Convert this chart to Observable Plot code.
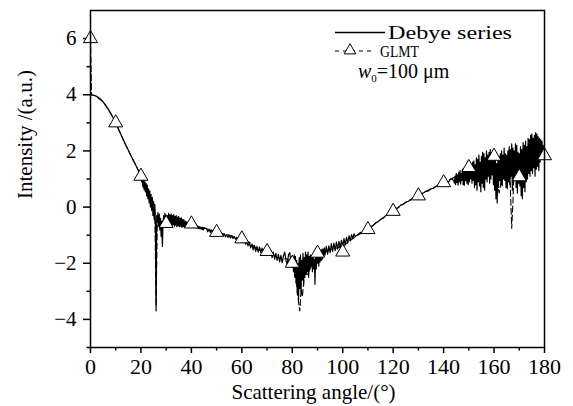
<!DOCTYPE html>
<html><head><meta charset="utf-8">
<script src="https://cdn.jsdelivr.net/npm/d3@7"></script>
<script src="https://cdn.jsdelivr.net/npm/@observablehq/plot@0.6"></script>
<style>
body{margin:0;background:#fff;}
#wrap{position:relative;width:573px;height:406px;background:#fff;}
#wrap svg{position:absolute;left:0;top:0;}
</style></head><body><div id="wrap"></div>
<script>
// ---------- data ----------
const xTicks = [0,20,40,60,80,100,120,140,160,180];
const xMinorTicks = [10,30,50,70,90,110,130,150,170];
const yTicks = [-4,-2,0,2,4,6];
const yMinorTicks = [-5,-3,-1,1,3,5];

// Debye series, sampled in segments (start angle, step, values)
const debyeA = [4.00,3.99,3.96,3.91,3.84,3.75,3.63,3.49,3.34,3.17,2.99,2.80,2.60,2.40,2.20,2.02,1.84,1.66,1.48,1.30,1.12]; // 0..20 step 1
const debyeB = [0.90,1.08,0.72,1.00,0.62,0.92,0.55,0.85,0.40,0.78,0.30,0.65,0.15,0.58,0.00,0.45,-0.12,0.35,-0.30,0.20,-0.45,0.10,-0.60,-3.70,-0.30,-0.55,-0.20,-0.68,-0.25,-0.82,-0.40,-1.05,-0.50,-1.40,-0.62,-0.30,-0.66,-0.22,-0.60,-0.28]; // 20.25..30 step 0.25
const debyeC = [-0.70,-0.30,-0.65,-0.22,-0.68,-0.28,-0.60,-0.25,-0.66,-0.30,-0.62,-0.27,-0.68,-0.33,-0.64,-0.30,-0.70,-0.36,-0.66,-0.34,-0.70,-0.40,-0.68,-0.38,-0.72,-0.44,-0.70,-0.45,-0.72,-0.50,-0.70,-0.52,-0.72,-0.56,-0.70,-0.58,-0.72,-0.60,-0.70,-0.60,-0.70,-0.62,-0.72,-0.64,-0.71,-0.66,-0.74,-0.67,-0.75,-0.68,-0.76,-0.70,-0.77,-0.71,-0.78,-0.73,-0.80,-0.74,-0.81,-0.76]; // 30.25..45 step 0.25
const debyeD = [-0.76,-0.88,-0.78,-0.90,-0.82,-0.92,-0.84,-0.96,-0.86,-0.98,-0.90,-1.00,-0.92,-1.04,-0.95,-1.06,-0.98,-1.08,-1.00,-1.10,-1.02,-1.12,-1.05,-1.15,-1.08,-1.18,-1.10,-1.22,-1.14,-1.26,-1.18,-1.32,-1.22,-1.38,-1.26,-1.45,-1.32,-1.52,-1.36,-1.58,-1.40,-1.60,-1.42,-1.62,-1.46,-1.66,-1.50,-1.68,-1.55]; // 46..70 step 0.5
const debyeE = [-1.50,-1.72,-1.55,-1.80,-1.60,-1.85,-1.65,-1.90,-1.68,-1.95,-1.72,-1.98,-1.75,-1.60,-1.90,-2.05,-1.70,-1.62,-2.00,-2.15]; // 70.5..80 step 0.5
const debyeF = [-1.80,-2.30,-1.70,-2.50,-1.75,-2.70,-1.90,-3.10,-2.00,-3.30,-1.80,-2.90,-1.70,-3.00,-1.90,-2.60,-1.65,-2.80,-1.80,-2.50,-1.60,-2.40,-1.70,-2.30,-1.60,-2.50,-1.75,-2.20,-1.70,-2.10,-1.80,-2.30,-1.75,-2.20,-1.85,-2.75,-1.80,-2.20,-1.70,-2.00,-1.65,-2.10,-1.60,-1.95,-1.55,-1.90,-1.50,-1.85,-1.50,-1.75,-1.45,-1.70]; // 80.25..93 step 0.25
const debyeG = [-1.40,-1.68,-1.38,-1.62,-1.30,-1.58,-1.28,-1.55,-1.25,-1.50,-1.22,-1.45,-1.18,-1.42,-1.12,-1.35,-1.08,-1.28,-1.02,-1.20,-0.98,-1.12,-0.95,-1.05]; // 93.5..105 step 0.5
const debyeH = [-0.98,-0.90,-0.92,-0.82,-0.80,-0.70,-0.66,-0.56,-0.52,-0.44,-0.40,-0.31,-0.27,-0.18,-0.14,-0.06,-0.02,0.07,0.10,0.17,0.21,0.26,0.32,0.36,0.42,0.46,0.50,0.56,0.58,0.65,0.67,0.74,0.76,0.84,0.86,0.93,0.90,1.02,0.95]; // 106..144 step 1
const debyeI = [0.85,1.10,0.80,
  1.20,0.88,1.15,0.78, 1.25,0.90,1.30,0.82, 1.20,0.95,1.35,0.80, 1.28,0.78,1.32,0.95, 1.40,0.85,1.25,0.80,
  1.45,0.90,1.55,1.00, 1.50,0.85,1.60,0.95, 1.65,0.70,1.50,0.80, 1.75,0.60,1.70,0.90, 1.85,0.75,1.60,0.55,
  1.80,0.85,1.95,0.70, 1.90,0.60,1.75,1.00, 2.00,0.90,1.85,1.10, 1.95,0.85,2.05,1.00, 1.90,1.15,2.00,0.80,
  1.85,0.60,1.70,0.30, 1.55,0.15,1.65,0.70, 1.80,0.95,1.90,0.80, 2.00,0.75,1.85,1.00, 2.10,0.95,1.90,0.70,
  1.85,0.65,2.00,0.90, 2.15,0.80,2.05,1.10, 2.25,0.60,2.10,0.85, 2.00,0.95,2.25,0.70, 2.20,0.50,1.95,0.85,
  1.90,0.75,2.15,0.40, 2.05,0.30,2.30,0.70, 2.20,0.55,2.35,0.90, 2.15,1.00,2.45,1.20, 2.40,1.10,2.55,1.30,
  2.60,1.20,2.45,1.40, 2.55,1.10,2.65,1.35, 2.60,1.45,2.50,1.30, 2.45,1.60,2.40,1.75, 2.35,1.85,2.20,1.90,
  1.95]; // 144.25..180 step 0.25

const debyeSegments = [
  {start: 0, step: 1, values: debyeA},
  {start: 20.25, step: 0.25, values: debyeB},
  {start: 30.25, step: 0.25, values: debyeC},
  {start: 46, step: 0.5, values: debyeD},
  {start: 70.5, step: 0.5, values: debyeE},
  {start: 80.25, step: 0.25, values: debyeF},
  {start: 93.5, step: 0.5, values: debyeG},
  {start: 106, step: 1, values: debyeH},
  {start: 144.25, step: 0.25, values: debyeI}
];

// GLMT (dashed line) and its markers
const glmtAngle = [0,0.4,2,5,8,10,13,16,18,20,22,24,25.5,26,26.5,28,30,33,36,40,45,50,55,60,63,66,70,74,78,80,81.5,82.5,83,83.5,84,85,86,88,90,93,96,100,105,110,115,120,125,130,135,140,145,148,151,154,157,160,162,164,166,167,167.5,168,169,171,173,175,177,180];
const glmtValue = [6.0,4.0,3.96,3.75,3.34,2.99,2.40,1.84,1.48,1.12,0.80,0.30,-0.10,-3.50,-0.40,-0.80,-0.45,-0.50,-0.55,-0.62,-0.74,-0.90,-1.00,-1.15,-1.25,-1.50,-1.60,-1.80,-1.85,-2.00,-2.60,-3.40,-3.70,-2.90,-3.20,-2.20,-2.40,-2.00,-1.90,-1.60,-1.50,-1.40,-1.05,-0.80,-0.44,-0.14,0.17,0.42,0.65,0.86,1.10,1.00,1.40,1.50,1.20,1.60,0.50,1.50,1.90,-0.75,0.20,1.80,1.20,2.00,1.50,2.20,2.40,1.90];
const glmtMarkAngle = [0,10,20,30,40,50,60,70,80,90,100,110,120,130,140,150,160,170,180];
const glmtMarkValue = [6.0,3.0,1.1,-0.58,-0.6,-0.9,-1.13,-1.58,-2.0,-1.64,-1.6,-0.8,-0.15,0.4,0.87,1.41,1.81,1.08,1.83];

// ---------- build tables ----------
const debye = debyeSegments.flatMap(s => s.values.map((v, i) => ({a: s.start + i * s.step, v})));
const glmt = glmtAngle.map((a, i) => ({a, v: glmtValue[i]}));
const glmtMarks = glmtMarkAngle.map((a, i) => ({a, v: glmtMarkValue[i]}));

const fmtY = d => d < 0 ? "\u2212" + Math.abs(d) : String(d);

const chart = Plot.plot({
  width: 573, height: 406,
  marginLeft: 90, marginRight: 29, marginTop: 10, marginBottom: 59,
  x: {domain: [0, 180]},
  y: {domain: [-5, 7]},
  style: {fontFamily: "'Liberation Serif', serif", background: "white", color: "black"},
  marks: [
    Plot.axisX({ticks: xTicks, tickSize: 6, tickPadding: 5, fontSize: 22, label: null, tickFormat: d => String(d), strokeWidth: 1.5}),
    Plot.axisX({ticks: xMinorTicks, tickSize: 3.5, text: null, label: null, strokeWidth: 1.5}),
    Plot.axisY({ticks: yTicks, tickSize: 7, tickPadding: 7, fontSize: 21, label: null, tickFormat: fmtY, strokeWidth: 1.5}),
    Plot.axisY({ticks: yMinorTicks, tickSize: 3.5, text: null, label: null, strokeWidth: 1.5}),
    Plot.line(debye, {x: "a", y: "v", stroke: "black", strokeWidth: 1.2, clip: true}),
    Plot.line(glmt, {x: "a", y: "v", stroke: "black", strokeWidth: 1.1, strokeDasharray: "6,3", clip: true}),
    Plot.dot(glmtMarks, {x: "a", y: "v", symbol: "triangle", r: 5.2, fill: "white", stroke: "black", strokeWidth: 1}),
    Plot.frame({stroke: "black", strokeWidth: 1.5}),
    Plot.text(["Scattering angle/(\u00B0)"], {frameAnchor: "bottom", dx: -4, dy: 51, fontSize: 21, ariaLabel: "xtitle"}),
    Plot.text(["Intensity /(a.u.)"], {frameAnchor: "left", rotate: -90, dx: -65, dy: 20, fontSize: 21, ariaLabel: "ytitle"})
  ]
});

d3.select(chart).select('g[aria-label="xtitle"] text').attr("textLength", 190).attr("lengthAdjust", "spacingAndGlyphs");
d3.select(chart).select('g[aria-label="ytitle"] text').attr("textLength", 195).attr("lengthAdjust", "spacingAndGlyphs");

const wrap = document.getElementById("wrap");
wrap.appendChild(chart);

// legend overlay
const leg = d3.create("svg").attr("width", 573).attr("height", 406)
  .style("font-family", "'Liberation Serif', serif").style("pointer-events", "none");
leg.append("line").attr("x1", 335).attr("x2", 385).attr("y1", 32.5).attr("y2", 32.5).attr("stroke", "black").attr("stroke-width", 1.3);
leg.append("text").attr("x", 388).attr("y", 38.5).attr("font-size", 18).attr("textLength", 124).attr("lengthAdjust", "spacingAndGlyphs").text("Debye series");
leg.append("line").attr("x1", 335).attr("x2", 372).attr("y1", 51).attr("y2", 51).attr("stroke", "black").attr("stroke-width", 1).attr("stroke-dasharray", "4,4");
leg.append("path").attr("d", d3.symbol(d3.symbolTriangle, 60)()).attr("transform", "translate(350,50.5)").attr("fill", "white").attr("stroke", "black");
leg.append("text").attr("x", 380).attr("y", 57).attr("font-size", 16).attr("textLength", 39).attr("lengthAdjust", "spacingAndGlyphs").text("GLMT");
const w = leg.append("text").attr("x", 358).attr("y", 78).attr("font-size", 20);
w.append("tspan").attr("font-style", "italic").text("w");
w.append("tspan").attr("font-size", 11).attr("dy", 4).text("0");
w.append("tspan").attr("dy", -4).text("=100 \u03BCm");
wrap.appendChild(leg.node());
</script></body></html>
